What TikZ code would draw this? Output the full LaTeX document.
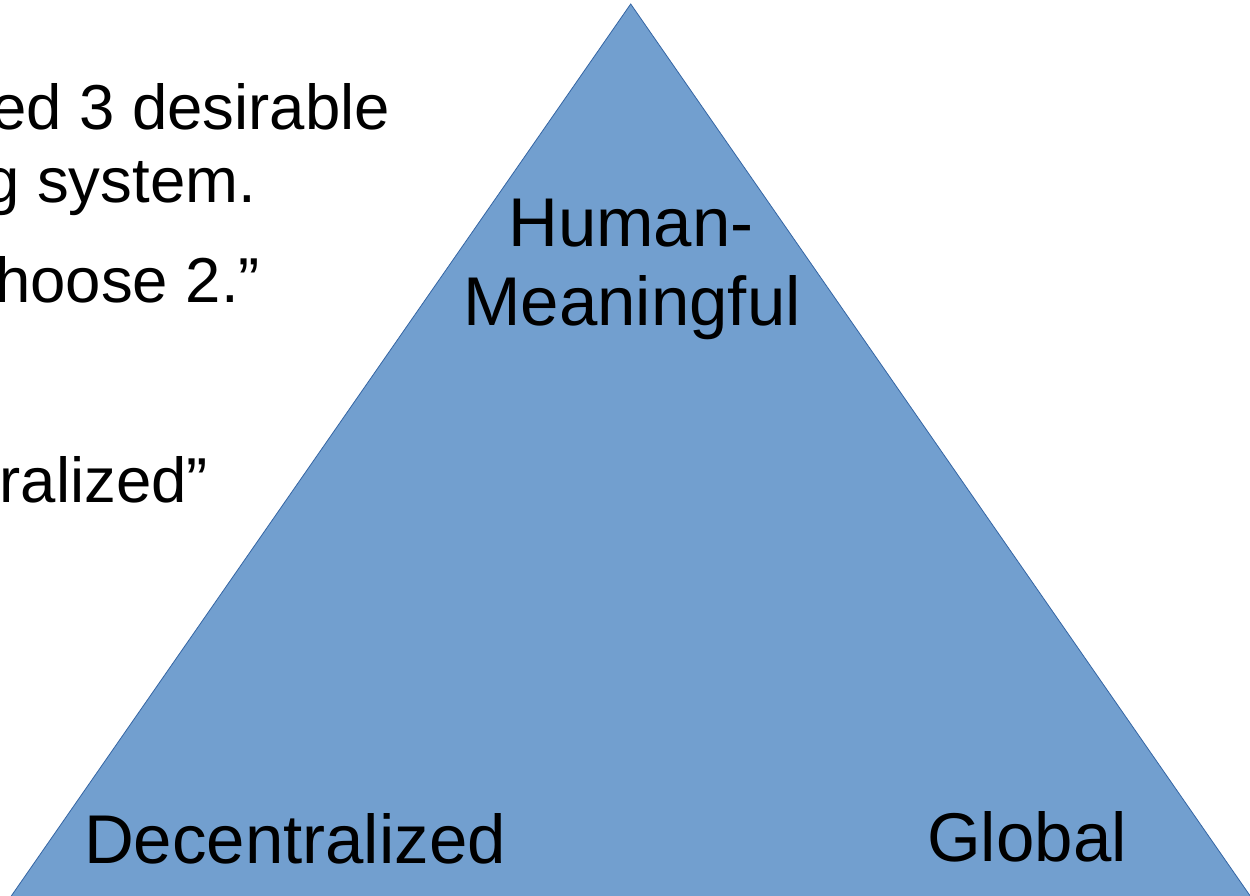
\documentclass[tikz,border=0pt]{standalone}
\usepackage{fontspec}
\setmainfont{Liberation Sans}
\definecolor{triFill}{HTML}{729FCF}
\definecolor{triLine}{HTML}{3465A4}
\begin{document}
\begin{tikzpicture}[x=1pt,y=-1pt,
  bigtext/.style={inner sep=0pt,outer sep=0pt,font=\fontsize{69}{80}\selectfont,text=black},
  sidetext/.style={bigtext,font=\fontsize{63.5}{74}\selectfont,anchor=base east},
  corner/.style={bigtext,anchor=base}]
\useasboundingbox (0,0) rectangle (1250,896);
\clip (0,0) rectangle (1250,896);
\fill[white] (0,0) rectangle (1250,896);
% triangle (extends below the frame)
\coordinate (apex) at (630.7,4);
\coordinate (bl) at (8.5,900);
\coordinate (br) at (1253,900);
\draw[fill=triFill,draw=triLine,line width=0.8pt,line join=miter] (apex) -- (bl) -- (br) -- cycle;
% cropped text on the left
\node[sidetext] (t1) at (390,130) {ed 3 desirable};
\node[sidetext] (t2) at (256,203) {g system.};
\node[sidetext] (t3) at (260,302) {hoose 2.”};
\node[sidetext] (t4) at (208,502) {ralized”};
% corner labels
\node[corner] (hm1) at (631,247) {Human-};
\node[corner] (hm2) at (632,325) {Meaningful};
\node[corner] (dec) at (295,863) {Decentralized};
\node[corner] (glo) at (1027,861) {Global};
\end{tikzpicture}
\end{document}
